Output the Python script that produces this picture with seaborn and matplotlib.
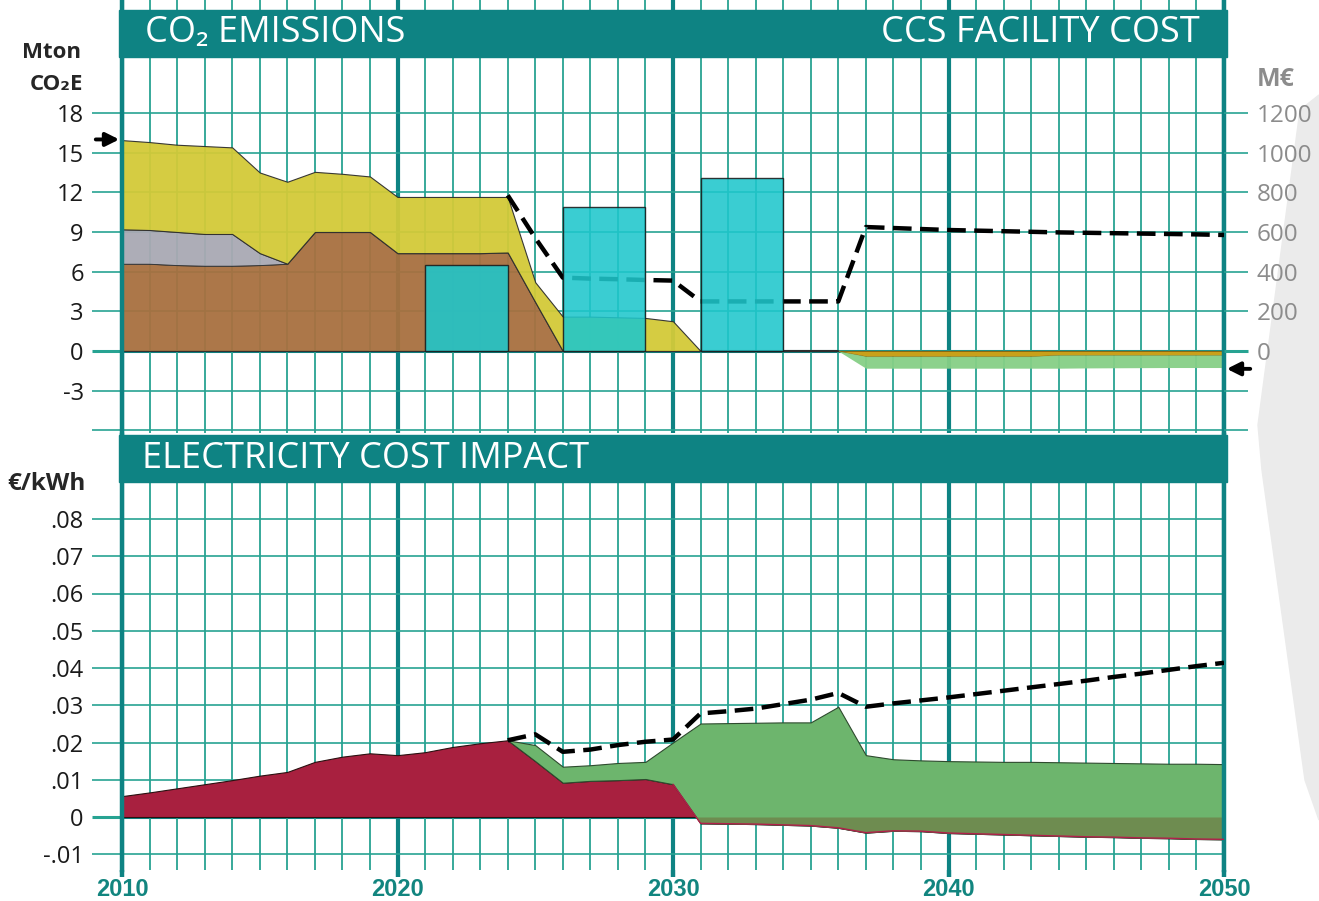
import numpy as np
import pandas as pd
import matplotlib
matplotlib.use('Agg')
import matplotlib.pyplot as plt
from matplotlib.patches import Rectangle, Polygon
import seaborn as sns

# ---- data -------------------------------------------------------------
years = list(range(2010, 2051))

# CO2 emissions, Mton CO2E (stacked layers)
emis_brown = [6.6, 6.6, 6.5, 6.45, 6.45, 6.5, 6.6, 9.0, 9.0, 9.0,
              7.4, 7.4, 7.4, 7.4, 7.45, 3.7] + [0] * 25
emis_gray = [2.6, 2.55, 2.5, 2.4, 2.4, 0.9] + [0] * 35
emis_total = [15.95, 15.8, 15.6, 15.5, 15.4, 13.5, 12.8, 13.55, 13.4, 13.2,
              11.65, 11.65, 11.65, 11.65, 11.65, 5.2, 2.6, 2.6, 2.55, 2.5,
              2.25] + [0] * 20
sink_top = [0] * 27 + [-0.4] * 7 + [-0.3] * 7
sink_bottom = [0] * 27 + [-1.3] * 8 + [-1.28, -1.27, -1.26, -1.25, -1.25, -1.25]

# CCS facility cost, M€
ccs_start = [2021, 2026, 2031]
ccs_end = [2024, 2029, 2034]
ccs_cost = [435, 725, 870]
ccs_years = list(range(2024, 2051))
ccs_total = [785, 570, 370, 365, 362, 358, 355, 250, 250, 250, 250, 250, 250,
             625, 620, 615, 610, 607, 604, 601, 598, 596, 594, 592, 590, 588, 585]

# electricity cost impact, €/kWh
elec_red = [.0056, .0066, .0077, .0088, .0099, .0111, .0121, .0148, .0162, .0171,
            .0166, .0174, .0188, .0198, .0206, .0150, .0092, .0097, .0099, .0102,
            .0088, -.0017, -.0018, -.0019, -.0021, -.0023, -.0029, -.0042, -.0037, -.0038,
            -.0043, -.0045, -.0047, -.0049, -.0051, -.0053, -.0054, -.0056, -.0057, -.0059,
            -.0060]
elec_green = [.0206, .0193, .0135, .0139, .0145, .0148, .0200, .0251, .0252, .0253,
              .0254, .0254, .0296, .0166, .0155, .0152, .0150, .0149, .0148, .0148,
              .0147, .0146, .0145, .0144, .0143, .0143, .0142]
elec_total = [.0206, .0222, .0175, .0181, .0193, .0202, .0208, .0278, .0284, .0291,
              .0303, .0315, .0333, .0296, .0305, .0313, .0321, .0330, .0339, .0348,
              .0357, .0366, .0376, .0385, .0395, .0405, .0414]

left_ticks = [-6, -3, 0, 3, 6, 9, 12, 15, 18]
right_ticks = [-400, -200, 0, 200, 400, 600, 800, 1000, 1200]
elec_ticks = [-.01, 0, .01, .02, .03, .04, .05, .06, .07, .08]
elec_labels = ['-.01', '0', '.01', '.02', '.03', '.04', '.05', '.06', '.07', '.08']
decades = [2010, 2020, 2030, 2040, 2050]

# ---- style ------------------------------------------------------------
sns.set_theme(style='white')
plt.rcParams['font.family'] = ['Open Sans', 'DejaVu Sans']

W, H = 1319, 901
TEAL = '#0e8383'
GRID = '#27a392'
EDGE = '#2e2e2e'

def fx(x):
    return x / W

def fy(y):
    return 1 - y / H

fig = plt.figure(figsize=(W / 100, H / 100), dpi=100)
fig.add_artist(Polygon([(fx(1319), fy(95)), (fx(1300), fy(110)), (fx(1258), fy(425)),
                        (fx(1262), fy(470)), (fx(1305), fy(780)), (fx(1319), fy(820))],
                       closed=True, transform=fig.transFigure, color='#ebebeb', zorder=0))

# top panel: px 0..433, zero at 351, 13.222 px per Mton
ppm = 238 / 18.0
ax = fig.add_axes([fx(122), fy(433), fx(1224) - fx(122), 433 / H])
ax.set_xlim(2010, 2050)
ax.set_ylim(-(433 - 351) / ppm, 351 / ppm)
ax2 = ax.twinx()
ax2.set_ylim(ax.get_ylim()[0] * 200 / 3, ax.get_ylim()[1] * 200 / 3)

# bottom panel: px 435..870, zero at 817, 3725 px per unit
ppe = 298 / 0.08
axb = fig.add_axes([fx(122), fy(870), fx(1224) - fx(122), 435 / H])
axb.set_xlim(2010, 2050)
axb.set_ylim(-(870 - 817) / ppe, (817 - 435) / ppe)

for a in (ax, axb):
    a.set_xticks(decades)
    a.set_xticks(years, minor=True)
    a.grid(which='minor', axis='x', color=GRID, lw=1.3, zorder=0)
    a.grid(which='major', axis='x', color=TEAL, lw=3.0, zorder=0)
    a.grid(which='major', axis='y', color=GRID, lw=1.2, zorder=0)
    a.set_axisbelow(True)
    for s in ('top', 'bottom'):
        a.spines[s].set_visible(False)
    for s in ('left', 'right'):
        a.spines[s].set_color(TEAL)
        a.spines[s].set_linewidth(3.2)
    a.axhline(0, color=TEAL, lw=2.2, zorder=0.5)
    a.tick_params(axis='x', which='minor', length=0)
for s in ax2.spines.values():
    s.set_visible(False)

# ---- top: emissions ---------------------------------------------------
yr = np.array(years)
brown = np.array(emis_brown)
gray_top = brown + np.array(emis_gray)
total = np.array(emis_total)
ax.fill_between(yr, 0, brown, color='#a8703f', alpha=0.95, ec=EDGE, lw=0.8, zorder=2)
ax.fill_between(yr, brown, gray_top, where=yr <= 2016, color='#a9a9b3', alpha=0.95,
                ec=EDGE, lw=0.6, zorder=2)
ax.fill_between(yr, gray_top, total, where=yr <= 2031, color='#d3ca38', alpha=0.95,
                ec=EDGE, lw=0.8, zorder=2)
ax.fill_between(yr, 0, sink_top, where=yr >= 2036, color='#c9a01a', ec='#8a6a10',
                lw=0.6, zorder=2)
ax.fill_between(yr, sink_top, sink_bottom, where=yr >= 2036, color='#86cf86',
                alpha=0.95, lw=0, zorder=2)
ax.plot([2031, 2036], [0, 0], color=EDGE, lw=1.5, zorder=3)

ax.annotate('', xy=(2010, 16), xytext=(-29, 0), textcoords='offset pixels',
            arrowprops=dict(arrowstyle='-|>', color='black', lw=2.8, mutation_scale=20),
            annotation_clip=False)
ax.annotate('', xy=(2050, -1.35), xytext=(29, 0), textcoords='offset pixels',
            arrowprops=dict(arrowstyle='-|>', color='black', lw=2.8, mutation_scale=20),
            annotation_clip=False)

cost_df = pd.DataFrame({'Year': ccs_years, 'Cost': ccs_total})
sns.lineplot(data=cost_df, x='Year', y='Cost', ax=ax2, color='black', lw=3.2,
             linestyle=(0, (4.2, 1.9)), zorder=3)
ax2.bar(ccs_start, ccs_cost, width=np.subtract(ccs_end, ccs_start), align='edge',
        color='#1ec7cc', alpha=0.88, ec='#1a1a1a', lw=1.0, zorder=4)

ax.set_yticks(left_ticks)
ax.set_yticklabels(['' if v < -3 else str(v) for v in left_ticks])
ax.tick_params(axis='y', left=True, length=21.6, width=1.2, color=GRID, pad=6,
               labelsize=17, labelcolor='#1a1a1a')
ax.tick_params(axis='x', which='both', length=0, labelbottom=False)
ax2.set_yticks(right_ticks)
ax2.set_yticklabels(['' if v < 0 else str(v) for v in right_ticks])
ax2.tick_params(axis='y', right=True, length=17.3, width=1.2, color=GRID, pad=6,
                labelsize=17.5, labelcolor='#8c8c8c')
ax2.set_xlabel('')
ax2.set_ylabel('')
for t in ax.yaxis.get_major_ticks():
    if t.get_loc() == 0:
        t.tick1line.set_markeredgewidth(2.2)
        t.tick1line.set_color(TEAL)
for t in ax2.yaxis.get_major_ticks():
    if t.get_loc() == 0:
        t.tick2line.set_markeredgewidth(2.2)
        t.tick2line.set_color(TEAL)

# title band
ax2.add_patch(Rectangle((-0.003, (433 - 57) / 433), 1.006, 47 / 433, transform=ax2.transAxes,
                        color=TEAL, clip_on=False, zorder=10))
fig.text(fx(145), fy(33), 'CO₂ EMISSIONS', color='white', fontsize=26, va='center',
         ha='left', zorder=20)
fig.text(fx(1200), fy(33), 'CCS FACILITY COST', color='white', fontsize=26,
         va='center', ha='right', zorder=20)

# ---- bottom: electricity cost ------------------------------------------
red = np.array(elec_red)
ey = np.array(ccs_years)
green = np.array(elec_green)
red_tail = red[yr >= 2024]
axb.fill_between(yr, 0, red, color='#a8203f', ec='#2a1010', lw=0.8, zorder=2)
axb.fill_between(ey, red_tail, green, color='#6db56d', ec='#2e4a2e', lw=0.8, zorder=2)
axb.fill_between(ey, red_tail, 0, where=red_tail < 0, interpolate=True, color='#6e8c50',
                 lw=0, zorder=2.5)
axb.plot(yr[yr >= 2030], red[yr >= 2030], color='#b0204a', lw=1.0, zorder=3)

elec_df = pd.DataFrame({'Year': ccs_years, 'Cost': elec_total})
sns.lineplot(data=elec_df, x='Year', y='Cost', ax=axb, color='black', lw=3.2,
             linestyle=(0, (4.2, 1.9)), zorder=4)

axb.set_yticks(elec_ticks)
axb.set_yticklabels(elec_labels)
axb.tick_params(axis='y', left=True, length=21.6, width=1.2, color=GRID, pad=6,
                labelsize=17, labelcolor='#1a1a1a')
axb.set_xticklabels([str(d) for d in decades])
axb.tick_params(axis='x', which='major', bottom=True, direction='out', length=5,
                width=3.2, color=TEAL, pad=1, labelsize=17, labelcolor='#12857f')
for lab in axb.get_xticklabels():
    lab.set_fontfamily(['Liberation Sans', 'DejaVu Sans'])
    lab.set_fontweight('bold')
for t in axb.yaxis.get_major_ticks():
    if t.get_loc() == 0:
        t.tick1line.set_markeredgewidth(2.2)
        t.tick1line.set_color(TEAL)
axb.set_xlabel('')
axb.set_ylabel('')

axb.add_patch(Rectangle((-0.003, (870 - 482) / 435), 1.006, 47 / 435, transform=axb.transAxes,
                        color=TEAL, clip_on=False, zorder=10))
fig.text(fx(142), fy(459), 'ELECTRICITY COST IMPACT', color='white', fontsize=26,
         va='center', ha='left', zorder=20)

# axis unit labels
fig.text(fx(52), fy(52), 'Mton', fontsize=16, fontweight='bold', ha='center', va='center')
fig.text(fx(56), fy(85), 'CO₂E', fontsize=16, fontweight='bold', ha='center', va='center')
fig.text(fx(1276), fy(80), 'M€', fontsize=18, fontweight='bold', color='#8c8c8c',
         ha='center', va='center')
fig.text(fx(46), fy(484), '€/kWh', fontsize=17.5, fontweight='bold', ha='center', va='center')

fig.savefig('out.png', dpi=100)
